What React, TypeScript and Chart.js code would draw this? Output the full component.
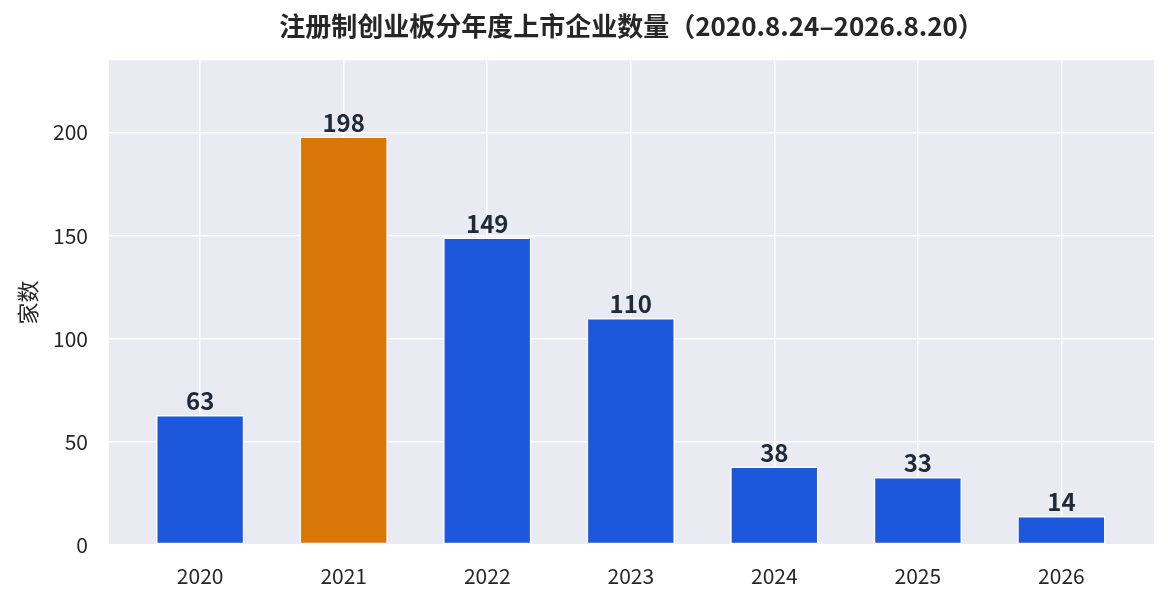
import { useEffect, useRef } from 'react'
import { Chart, registerables } from 'chart.js'

Chart.register(...registerables)

const years = ['2020', '2021', '2022', '2023', '2024', '2025', '2026']
const counts = [63, 198, 149, 110, 38, 33, 14]
const highlightYear = '2021'
const yTicks = [0, 50, 100, 150, 200]

const FONT = '"Noto Sans CJK SC", "Noto Sans", sans-serif'
const BLUE = '#1c57dc'
const ORANGE = '#d97706'

// 柱顶数字
const valueLabels = {
  id: 'valueLabels',
  afterDatasetsDraw(chart: any) {
    const { ctx } = chart
    const meta = chart.getDatasetMeta(0)
    ctx.save()
    ctx.font = `bold 24px ${FONT}`
    ctx.fillStyle = '#1f2937'
    ctx.textAlign = 'center'
    ctx.textBaseline = 'bottom'
    meta.data.forEach((bar: any, i: number) => {
      ctx.fillText(String(counts[i]), bar.x, bar.y - 2)
    })
    ctx.restore()
  },
}

export default function App() {
  const canvasRef = useRef<HTMLCanvasElement>(null)
  const chartRef = useRef<Chart | null>(null)

  useEffect(() => {
    document.body.style.margin = '0'
    if (!canvasRef.current) return
    if (chartRef.current) chartRef.current.destroy()

    const config = {
      type: 'bar',
      data: {
        datasets: [
          {
            data: counts.map((v, i) => ({ x: i, y: v })),
            backgroundColor: years.map((y) => (y === highlightYear ? ORANGE : BLUE)),
            borderColor: '#ffffff',
            borderWidth: 1.5,
            borderSkipped: false,
            categoryPercentage: 1,
            barPercentage: 0.615,
          },
        ],
      },
      options: {
        animation: false,
        responsive: false,
        maintainAspectRatio: false,
        layout: { padding: { left: 0, right: 14, top: 0, bottom: 0 } },
        plugins: {
          legend: { display: false },
          tooltip: { enabled: false },
          title: {
            display: true,
            fullSize: false,
            text: '注册制创业板分年度上市企业数量（2020.8.24–2026.8.20）',
            color: '#262626',
            font: { family: FONT, size: 26, weight: 'bold', lineHeight: 1.2 },
            padding: { top: 11, bottom: 18 },
          },
        },
        scales: {
          x: {
            type: 'linear',
            min: -0.635,
            max: 6.645,
            offset: false,
            grid: { color: '#ffffff', lineWidth: 1.5, drawTicks: false, offset: false },
            border: { display: false },
            afterBuildTicks(scale: any) {
              scale.ticks = years.map((_, i) => ({ value: i }))
            },
            ticks: {
              color: '#262626',
              font: { family: FONT, size: 21 },
              padding: 18,
              callback: (v: number) => years[v] ?? '',
            },
            afterFit(scale: any) {
              scale.height = 59
            },
          },
          y: {
            min: 0,
            max: 235,
            grid: { color: '#ffffff', lineWidth: 1.5, drawTicks: false },
            border: { display: false },
            afterBuildTicks(scale: any) {
              scale.ticks = yTicks.map((v) => ({ value: v }))
            },
            ticks: {
              color: '#262626',
              font: { family: FONT, size: 21 },
              padding: 21,
            },
            title: {
              display: true,
              text: '家数',
              color: '#262626',
              font: { family: FONT, size: 22 },
              padding: { top: 14, bottom: 0 },
            },
            afterFit(scale: any) {
              scale.width = 109
            },
          },
        },
      },
      plugins: [
        {
          id: 'plotBg',
          beforeDraw(chart: any) {
            const { ctx, chartArea } = chart
            ctx.save()
            ctx.fillStyle = '#eaeaf2'
            ctx.fillRect(chartArea.left, chartArea.top, chartArea.width, chartArea.height)
            ctx.restore()
          },
        },
        valueLabels,
      ],
    }

    chartRef.current = new Chart(canvasRef.current, config as any)
    return () => {
      if (chartRef.current) {
        chartRef.current.destroy()
        chartRef.current = null
      }
    }
  }, [])

  return (
    <div style={{ width: 1168, height: 604, background: '#ffffff' }}>
      <canvas ref={canvasRef} width={1168} height={604} style={{ width: 1168, height: 604 }} />
    </div>
  )
}
